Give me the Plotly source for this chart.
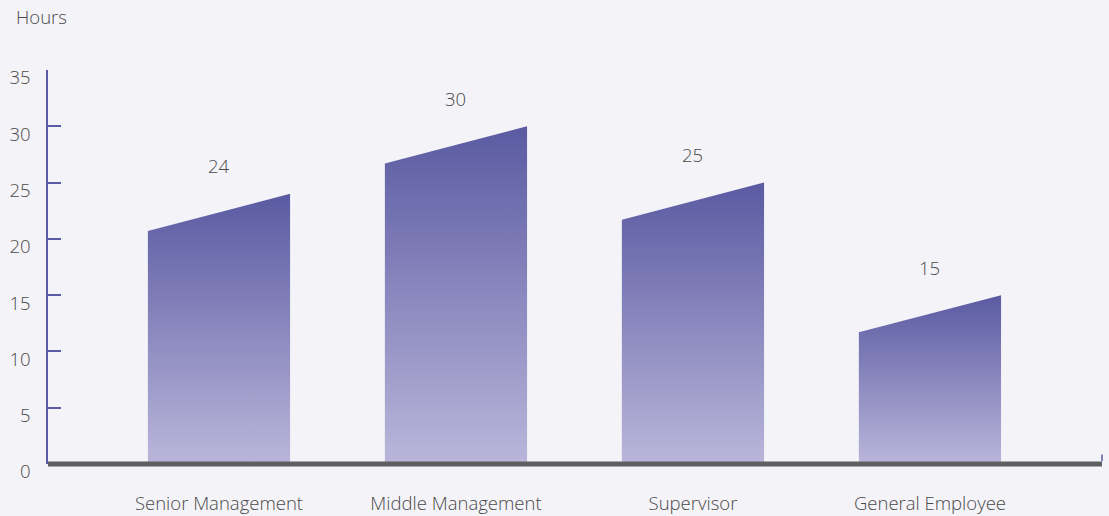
import plotly.graph_objects as go

# Training hours per employee group
categories = ["Senior Management", "Middle Management", "Supervisor", "General Employee"]
hours = [24, 30, 25, 15]
y_ticks = [0, 5, 10, 15, 20, 25, 30, 35]

BAR_HALF = 0.3      # half bar width in category units
SLANT = 3.3         # drop of the left top corner, in hours
TOP_COLOR = "#5a5aa2"
BOTTOM_COLOR = "#bab6da"
TEXT_COLOR = "#4a4a4a"
AXIS_COLOR = "#5b5ba6"
BG = "#f4f3f8"
FONT = "Open Sans"
FSIZE = 18.5
WEIGHT = 300

fig = go.Figure()

for i, (name, v) in enumerate(zip(categories, hours)):
    xs = [i - BAR_HALF, i - BAR_HALF, i + BAR_HALF, i + BAR_HALF, i - BAR_HALF]
    ys = [0, v - SLANT, v, 0, 0]
    fig.add_trace(go.Scatter(
        x=xs, y=ys, mode="lines", fill="toself",
        line=dict(width=0, color=TOP_COLOR),
        fillgradient=dict(
            type="vertical", start=0, stop=v,
            colorscale=[[0, BOTTOM_COLOR], [1, TOP_COLOR]],
        ),
        hoverinfo="skip", showlegend=False, name=name,
    ))
    fig.add_annotation(
        x=i, y=v, text=str(v), showarrow=False, yshift=28,
        font=dict(family=FONT, size=FSIZE, color=TEXT_COLOR, weight=WEIGHT),
    )

# thick baseline along the category axis
fig.add_shape(type="line", xref="paper", yref="paper", x0=0, x1=1, y0=0, y1=0,
              line=dict(color="#5f5f5f", width=5))
# small end mark at the right of the baseline
fig.add_shape(type="line", xref="paper", yref="y", x0=1, x1=1, y0=0.25, y1=0.85,
              line=dict(color=AXIS_COLOR, width=1.5))

fig.add_annotation(
    xref="paper", yref="paper", x=-0.0065, y=1, xanchor="center", yanchor="bottom",
    yshift=39, text="Hours", showarrow=False,
    font=dict(family=FONT, size=FSIZE, color=TEXT_COLOR, weight=WEIGHT),
)

fig.update_xaxes(
    range=[-0.7215, 3.726], tickvals=list(range(len(categories))), ticktext=categories,
    showgrid=False, zeroline=False, showline=False, ticks="",
    ticklabelstandoff=26, automargin=False,
    tickfont=dict(family=FONT, size=FSIZE, color=TEXT_COLOR, weight=WEIGHT),
)
fig.update_yaxes(
    range=[0, 35], tickvals=y_ticks, showgrid=False, zeroline=False,
    showline=True, linecolor=AXIS_COLOR, linewidth=1.5,
    ticks="inside", ticklen=13, tickwidth=1.5, tickcolor=AXIS_COLOR,
    ticklabelstandoff=12, ticklabelshift=8, automargin=False,
    tickfont=dict(family=FONT, size=FSIZE, color=TEXT_COLOR, weight=WEIGHT),
)

fig.update_layout(
    width=1109, height=516,
    margin=dict(l=48, r=7, t=70, b=52, autoexpand=False),
    paper_bgcolor=BG, plot_bgcolor=BG,
)

fig.write_html("out.html")
